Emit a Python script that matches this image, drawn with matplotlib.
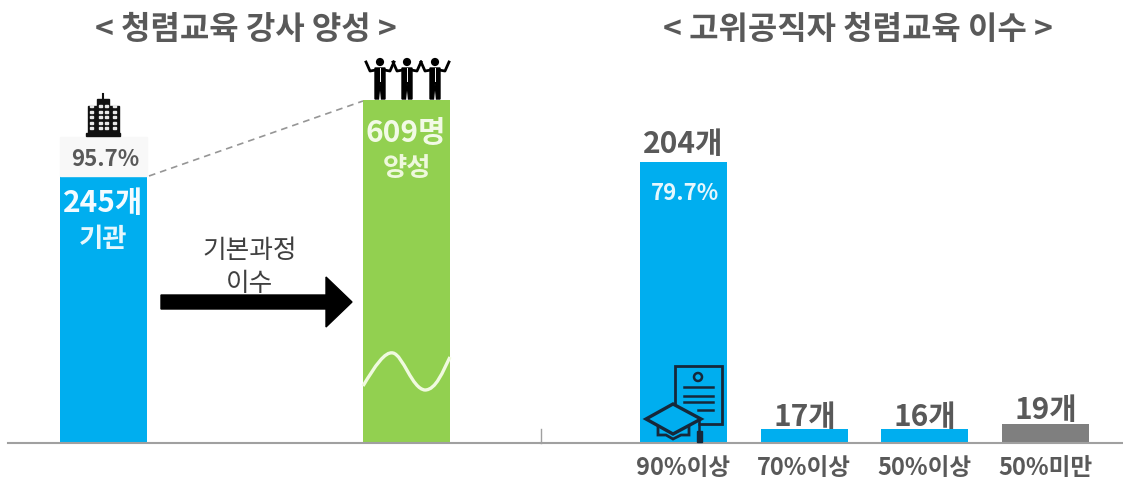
import matplotlib
matplotlib.use("Agg")
import matplotlib.pyplot as plt
from matplotlib.patches import Polygon, Rectangle, Circle, PathPatch
from matplotlib.path import Path

plt.rcParams['font.family'] = ['Noto Sans CJK KR', 'DejaVu Sans']

W, H = 1123, 481
BASE = 444

# data
left_titles = "< 청렴교육 강사 양성 >"
right_titles = "< 고위공직자 청렴교육 이수 >"
left_cats = ["245개", "609명"]
left_subs = ["기관", "양성"]
left_heights = [267, 343]      # drawn heights (the bars are not to scale)
left_colors = ["#00aeef", "#92d050"]
right_cats = ["90%이상", "70%이상", "50%이상", "50%미만"]
right_labels = ["204개", "17개", "16개", "19개"]
right_heights = [281, 14, 14, 19]   # drawn heights
right_colors = ["#00aeef", "#00aeef", "#00aeef", "#7f7f7f"]
TXT = "#595959"

fig = plt.figure(figsize=(W / 100, H / 100), dpi=100, facecolor="white")


def make_axes(x0, x1, xlim):
    ax = fig.add_axes([x0 / W, (H - BASE) / H, (x1 - x0) / W, BASE / H])
    ax.set_xlim(*xlim)
    ax.set_ylim(0, BASE)
    ax.patch.set_alpha(0)
    for s in ("top", "left", "right"):
        ax.spines[s].set_visible(False)
    ax.spines["bottom"].set_color("#a0a0a0")
    ax.spines["bottom"].set_linewidth(1.5)
    ax.set_yticks([])
    return ax


axl = make_axes(8, 541, (-0.315, 1.444))
axl.bar(range(2), left_heights, width=0.287, color=left_colors)
axl.set_xticks([])

axr = make_axes(541, 1123, (-1.183, 3.647))
axr.bar(range(4), right_heights, width=0.722, color=right_colors)
axr.set_xticks(range(4), right_cats, fontsize=17, fontweight="bold", color=TXT)
axr.tick_params(axis="x", length=0, pad=9)
axr.spines["bottom"].set_zorder(5)

# overlay in pixel coordinates for annotations and icons
ov = fig.add_axes([0, 0, 1, 1])
ov.set_xlim(0, W)
ov.set_ylim(H, 0)
ov.axis("off")
ov.patch.set_alpha(0)

ov.text(246, 30, left_titles, ha="center", va="center", fontsize=23, fontweight="bold", color=TXT)
ov.text(858, 30, right_titles, ha="center", va="center", fontsize=23, fontweight="bold", color=TXT)

# left annotations
ov.add_patch(Rectangle((60, 138), 87, 39, color="#f8f8f8", zorder=0))
ov.text(105, 160, "95.7%", ha="center", va="center", fontsize=16, fontweight="bold", color=TXT)
ov.text(103, 203, left_cats[0], ha="center", va="center", fontsize=21.5, fontweight="bold", color="#f4fbff")
ov.text(103, 240, left_subs[0], ha="center", va="center", fontsize=19, fontweight="bold", color="#e6f7fd")
ov.text(406, 133, left_cats[1], ha="center", va="center", fontsize=21.5, fontweight="bold", color="#f2fae6")
ov.text(407, 169, left_subs[1], ha="center", va="center", fontsize=19, fontweight="bold", color="#eef8dc")
ov.plot([149, 363], [177, 102], color="#969696", lw=1.2, ls=(0, (4, 3)))
ov.text(250, 251, "기본과정", ha="center", va="center", fontsize=18.5, color="#404040", fontweight="medium")
ov.text(250, 284, "이수", ha="center", va="center", fontsize=18.5, color="#404040", fontweight="medium")
ov.add_patch(Polygon([(161, 296), (326, 296), (326, 278), (352, 303), (326, 328), (326, 310), (161, 310)], color="black"))

# wave on green bar
wave = Path([(363, 387), (375, 367), (385, 352), (393, 354),
             (403, 356), (412, 390), (425, 391),
             (436, 391), (443, 372), (450, 358)],
            [Path.MOVETO] + [Path.CURVE4] * 9)
ov.add_patch(PathPatch(wave, fill=False, ec="#f0fadf", lw=2.4))

# right value labels
for xc, yc, s in zip([683, 805, 925, 1046], [144, 417, 417, 410], right_labels):
    ov.text(xc, yc, s, ha="center", va="center", fontsize=21.5, fontweight="bold", color=TXT)
ov.text(685, 194, "79.7%", ha="center", va="center", fontsize=16, fontweight="bold", color="#e6f7fd")

# building icon
INK = "#111111"
ov.add_patch(Rectangle((88, 107), 9, 27, color=INK))
ov.add_patch(Rectangle((109, 107), 10, 27, color=INK))
ov.add_patch(Rectangle((97, 100), 12, 34, color=INK))
ov.add_patch(Rectangle((86, 134), 34, 3, color=INK))
ov.plot([103, 103], [95, 100], color=INK, lw=1.5)
for r in range(5):
    for c in (90, 99, 105, 113):
        ov.add_patch(Rectangle((c, 106 + r * 5.5), 3, 2.4, color="#e8e8e8"))

# people icon
for cx in (380, 407, 435):
    ov.add_patch(Circle((cx, 63), 3.4, color="black"))
    ov.add_patch(Polygon([(cx - 5, 69), (cx + 5, 69), (cx + 5, 100), (cx + 1.5, 100), (cx, 84),
                          (cx - 1.5, 100), (cx - 5, 100)], color="black"))
    ov.plot([cx, cx], [69, 82], color="white", lw=0.7)
    ov.plot([cx - 4, cx - 10, cx - 14], [71, 72, 63], color="black", lw=2)
    ov.plot([cx + 4, cx + 10, cx + 14], [71, 72, 63], color="black", lw=2)

# certificate + cap icon
NV = "#16283a"
ov.add_patch(Polygon([(675, 405), (675, 367), (722, 367), (722, 425), (698, 425)], closed=False,
                     fill=False, ec=NV, lw=2))
ov.add_patch(Circle((698, 378), 4, fill=False, ec=NV, lw=1.8))
for y, x0, x1 in [(388, 684, 713), (397, 684, 713), (403, 684, 713), (411, 698, 713)]:
    ov.plot([x0, x1], [y, y], color=NV, lw=1.8)
ov.add_patch(Polygon([(646, 420), (673, 405), (701, 420), (673, 435)], fill=True, fc="#00aeef", ec=NV, lw=2.4))
ov.add_patch(Polygon([(658, 427), (658, 436), (666, 436), (673, 440), (681, 436), (689, 436), (689, 427)],
                     closed=False, fill=False, ec=NV, lw=2))
ov.plot([699, 699], [421, 432], color=NV, lw=1.8)
ov.add_patch(Rectangle((696.5, 432), 5, 11, fc=NV, ec=NV, lw=1))

# tick between panels
ov.plot([541, 541], [430, 444], color="#a0a0a0", lw=1)

fig.savefig("out.png", dpi=100, facecolor="white")
